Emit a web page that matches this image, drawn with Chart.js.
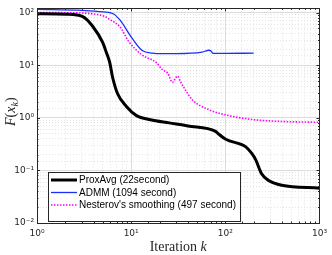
<!DOCTYPE html>
<html><head><meta charset="utf-8">
<script src="https://cdn.jsdelivr.net/npm/chart.js@4/dist/chart.umd.min.js"></script>
<style>html,body{margin:0;padding:0;background:#fff;}#wrap{width:332px;height:255px;}</style>
</head><body><div id="wrap"><canvas id="c" width="332" height="255"></canvas></div>
<script>
const seriesNames = ['ProxAvg (22second)', 'ADMM (1094 second)', "Nesterov's smoothing (497 second)"];
const proxK = [1, 2.07, 3.06, 3.9, 4.98, 5.48, 5.9, 6.35, 7.16, 8.9, 11.4, 16, 25.4, 40, 79, 85, 101, 165, 191, 210, 243, 289, 397, 1000];
const proxF = [95, 93, 84, 55, 27, 17, 11.6, 5.9, 2.9, 1.64, 1.1, 0.92, 0.8, 0.7, 0.55, 0.49, 0.39, 0.28, 0.21, 0.16, 0.086, 0.064, 0.052, 0.046];
const admmK = [1, 3, 4.63, 6.35, 7.52, 10.3, 13.1, 16.8, 22, 30, 56.7, 67, 71, 74, 100, 200];
const admmF = [115, 110, 104, 96, 74, 32, 19, 17, 16.6, 16.6, 17.7, 19.2, 18.3, 16.8, 16.8, 16.9];
const nestK = [1, 3, 4.2, 5.2, 5.9, 7.5, 9.6, 13.1, 18.5, 21.5, 24.4, 27.5, 29.8, 31, 33.7, 38, 44.6, 67, 109, 191, 343, 1000];
const nestF = [100, 98, 93, 85, 74, 55, 27, 15.6, 11.2, 8.2, 7.1, 4.7, 5.8, 6.2, 4.7, 3.3, 2.2, 1.42, 1.1, 0.93, 0.86, 0.82];
const xTickDecades = [1, 10, 100, 1000];
const yTickDecades = [0.01, 0.1, 1, 10, 100];
const xLabel = 'Iteration';
const yLabel = 'F';

const supMap = {'0':'\u2070','1':'\u00b9','2':'\u00b2','3':'\u00b3','-':'\u207b'};
function decLabel(v, list) {
  for (const d of list) {
    if (Math.abs(v - d) / d < 1e-6) {
      return '10' + String(Math.round(Math.log10(d))).split('').map(c => supMap[c]).join('');
    }
  }
  return '';
}
function isDecade(v) { const e = Math.log10(v); return Math.abs(e - Math.round(e)) < 1e-6; }
function pts(k, f) { return k.map((x, i) => ({x: x, y: f[i]})); }

const extras = {
  id: 'extras',
  afterDatasetsDraw(chart) {
    const ctx = chart.ctx, a = chart.chartArea;
    const xs = chart.scales.x, ys = chart.scales.y;
    ctx.save();
    ctx.strokeStyle = '#262626';
    ctx.lineWidth = 1;
    ctx.beginPath();
    xs.ticks.forEach(t => {
      if (t.value > xs.max || t.value < xs.min) return;
      const px = Math.round(xs.getPixelForValue(t.value)) + 0.5;
      const L = isDecade(t.value) ? 3 : 1.5;
      ctx.moveTo(px, a.bottom); ctx.lineTo(px, a.bottom - L);
      ctx.moveTo(px, a.top); ctx.lineTo(px, a.top + L);
    });
    ys.ticks.forEach(t => {
      if (t.value > ys.max || t.value < ys.min) return;
      if (!isDecade(t.value) && Math.abs(t.value - ys.max) < 1e-6) return;
      const py = Math.round(ys.getPixelForValue(t.value)) + 0.5;
      const L = isDecade(t.value) ? 3 : 1.5;
      ctx.moveTo(a.left, py); ctx.lineTo(a.left + L, py);
      ctx.moveTo(a.right, py); ctx.lineTo(a.right - L, py);
    });
    ctx.stroke();
    ctx.strokeStyle = '#262626';
    ctx.strokeRect(Math.round(a.left) + 0.5, Math.round(a.top) + 0.5, Math.round(a.right - a.left), Math.round(a.bottom - a.top));

    // legend
    const lx = a.left + 11, ly = a.bottom - 51, lw = 192, lh = 49;
    ctx.fillStyle = '#fff';
    ctx.fillRect(lx, ly, lw, lh);
    ctx.strokeStyle = '#262626';
    ctx.strokeRect(Math.round(lx) + 0.5, Math.round(ly) + 0.5, lw, lh);
    ctx.font = '10px "Liberation Sans", Arial, sans-serif';
    ctx.textBaseline = 'middle';
    ctx.textAlign = 'left';
    chart.data.datasets.forEach((ds, i) => {
      const y = ly + 8 + i * 12.5;
      ctx.beginPath();
      ctx.strokeStyle = ds.borderColor;
      ctx.lineWidth = ds.borderWidth;
      ctx.setLineDash(ds.borderDash || []);
      ctx.moveTo(lx + 3, y); ctx.lineTo(lx + 29, y);
      ctx.stroke();
      ctx.setLineDash([]);
      ctx.fillStyle = '#000';
      ctx.fillText(ds.label, lx + 31, y + 0.5);
    });

    // x axis title
    ctx.fillStyle = '#262626';
    ctx.textBaseline = 'alphabetic';
    const cx = (a.left + a.right) / 2;
    ctx.font = '14px "Liberation Serif", "DejaVu Serif", serif';
    const w1 = ctx.measureText(xLabel + ' ').width;
    ctx.font = 'italic 14px "Liberation Serif", "DejaVu Serif", serif';
    const w2 = ctx.measureText('k').width;
    let sx = cx - (w1 + w2) / 2;
    ctx.font = '14px "Liberation Serif", "DejaVu Serif", serif';
    ctx.fillText(xLabel + ' ', sx, 251);
    ctx.font = 'italic 14px "Liberation Serif", "DejaVu Serif", serif';
    ctx.fillText('k', sx + w1, 251);

    // y axis title F(x_k)
    ctx.save();
    ctx.translate(15, (a.top + a.bottom) / 2 - 4);
    ctx.rotate(-Math.PI / 2);
    const parts = [
      {t: yLabel, f: 'italic 14px "Liberation Serif", serif', dy: 0},
      {t: '(', f: '14px "Liberation Serif", serif', dy: 0},
      {t: 'x', f: 'italic 14px "Liberation Serif", serif', dy: 0},
      {t: 'k', f: 'italic 10px "Liberation Serif", serif', dy: 3},
      {t: ')', f: '14px "Liberation Serif", serif', dy: 0}
    ];
    let tw = 0;
    parts.forEach(p => { ctx.font = p.f; p.w = ctx.measureText(p.t).width; tw += p.w; });
    let px0 = -tw / 2;
    parts.forEach(p => { ctx.font = p.f; ctx.fillText(p.t, px0, p.dy); px0 += p.w; });
    ctx.restore();
    ctx.restore();
  }
};

const gridColor = c => (c.tick && isDecade(c.tick.value)) ? '#dcdcdc' : '#e4e4e4';
const gridDash = c => (c.tick && !isDecade(c.tick.value)) ? [1, 2] : [];

new Chart(document.getElementById('c'), {
  type: 'line',
  data: {
    datasets: [
      {label: seriesNames[0], data: pts(proxK, proxF), borderColor: '#000000', borderWidth: 3, pointRadius: 0, cubicInterpolationMode: 'monotone', fill: false},
      {label: seriesNames[1], data: pts(admmK, admmF), borderColor: '#1a2eff', borderWidth: 1.3, pointRadius: 0, cubicInterpolationMode: 'monotone', fill: false},
      {label: seriesNames[2], data: pts(nestK, nestF), borderColor: '#ff00ff', borderWidth: 1.6, borderDash: [1.5, 1.5], pointRadius: 0, cubicInterpolationMode: 'monotone', fill: false}
    ]
  },
  options: {
    responsive: false,
    devicePixelRatio: 1,
    animation: false,
    layout: {padding: {top: 1, right: 11, left: 0, bottom: 0}},
    plugins: {legend: {display: false}, tooltip: {enabled: false}},
    scales: {
      x: {
        type: 'logarithmic', min: 1, max: 1000,
        afterFit: s => { s.height = 32; },
        grid: {color: gridColor, drawTicks: false, lineWidth: 1},
        border: {display: false, dash: gridDash},
        ticks: {autoSkip: false, maxRotation: 0, padding: 5, color: '#262626',
          font: {family: '"DejaVu Sans", "Liberation Sans", sans-serif', size: 9},
          callback: v => decLabel(v, xTickDecades)}
      },
      y: {
        type: 'logarithmic', min: 0.01, max: 120,
        afterFit: s => { s.width = 37; },
        grid: {color: gridColor, drawTicks: false, lineWidth: 1},
        border: {display: false, dash: gridDash},
        ticks: {autoSkip: false, padding: 3, color: '#262626',
          font: {family: '"DejaVu Sans", "Liberation Sans", sans-serif', size: 9},
          callback: v => decLabel(v, yTickDecades)}
      }
    }
  },
  plugins: [extras]
});
</script></body></html>
